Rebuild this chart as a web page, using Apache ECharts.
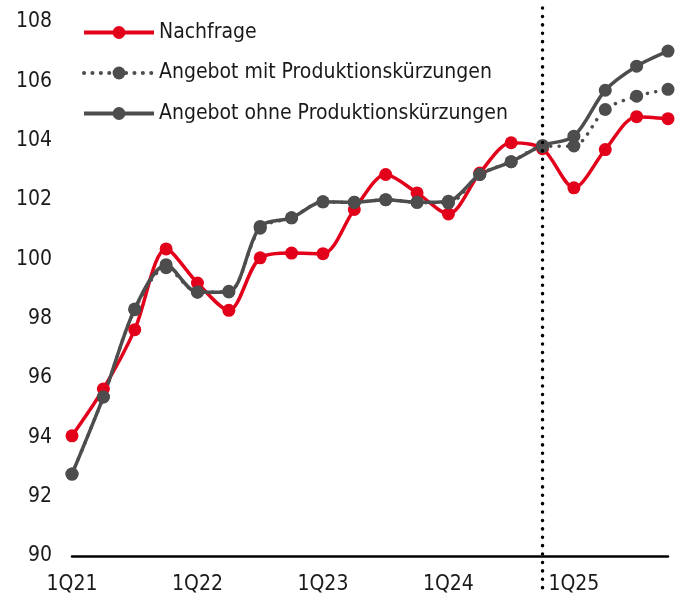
<!DOCTYPE html>
<html>
<head>
<meta charset="utf-8">
<script src="https://cdn.jsdelivr.net/npm/echarts@6/dist/echarts.min.js"></script>
<style>
html, body { margin: 0; padding: 0; background: #fff; }
#chart { width: 681px; height: 595px; }
</style>
</head>
<body>
<div id="chart"></div>
<script>
// Quartale 1Q21 .. 4Q25
var quartale = ['1Q21','2Q21','3Q21','4Q21','1Q22','2Q22','3Q22','4Q22','1Q23','2Q23','3Q23','4Q23',
	'1Q24','2Q24','3Q24','4Q24','1Q25','2Q25','3Q25','4Q25'];
var nachfrage = [94.05, 95.63, 97.63, 100.35, 99.2, 98.28, 100.05, 100.21, 100.19, 101.68, 102.86, 102.24,
	101.53, 102.91, 103.93, 103.73, 102.41, 103.7, 104.81, 104.74];
var angebotMit = [92.76, 95.36, 98.3, 99.72, 98.9, 98.92, 101.05, 101.4, 101.94, 101.92, 102.01, 101.92,
	101.9, 102.86, 103.29, 103.8, 103.82, 105.05, 105.5, 105.73];
var angebotOhne = [92.76, 95.36, 98.33, 99.82, 98.89, 98.9, 101.11, 101.4, 101.94, 101.92, 102.01, 101.92,
	101.96, 102.86, 103.29, 103.84, 104.15, 105.7, 106.51, 107.02];
var yTicks = [90, 92, 94, 96, 98, 100, 102, 104, 106, 108];
var prognoseStart = 15; // 4Q24

var rot = '#e2001a';
var grau = '#4d4d4d';
var schrift = '"DejaVu Sans Condensed", "DejaVu Sans", sans-serif';

var chart = echarts.init(document.getElementById('chart'));
var option = {
	animation: false,
	textStyle: { fontFamily: schrift },
	grid: { left: 72, right: 13, top: 22, bottom: 39, containLabel: false },
	legend: {
		orient: 'vertical',
		left: 82,
		top: 22,
		itemWidth: 70,
		itemHeight: 16,
		itemGap: 19.5,
		padding: 0,
		lineStyle: { width: 4 },
		textStyle: { fontFamily: schrift, fontSize: 21, color: '#1a1a1a' },
		data: ['Nachfrage', 'Angebot mit Produktionskürzungen', 'Angebot ohne Produktionskürzungen']
	},
	xAxis: {
		type: 'category',
		data: quartale,
		boundaryGap: false,
		axisLine: { lineStyle: { color: '#000', width: 2.5 } },
		axisTick: { show: false },
		axisLabel: { interval: 3, color: '#1a1a1a', fontSize: 21, margin: 18, fontFamily: schrift }
	},
	yAxis: {
		type: 'value',
		min: yTicks[0],
		max: yTicks[yTicks.length - 1],
		interval: 2,
		axisLine: { show: false },
		axisTick: { show: false },
		splitLine: { show: false },
		axisLabel: { color: '#1a1a1a', fontSize: 21, margin: 20, fontFamily: schrift }
	},
	series: [
		{
			name: 'Nachfrage',
			type: 'line',
			data: nachfrage,
			smooth: 0.3,
			symbol: 'circle',
			symbolSize: 13,
			itemStyle: { color: rot },
			lineStyle: { color: rot, width: 3.5 }
		},
		{
			name: 'Angebot mit Produktionskürzungen',
			type: 'line',
			data: angebotMit,
			smooth: 0.3,
			symbol: 'circle',
			symbolSize: 13,
			itemStyle: { color: grau },
			lineStyle: { color: grau, width: 3.5, type: [0.1, 8.3], cap: 'round' }
		},
		{
			name: 'Angebot ohne Produktionskürzungen',
			type: 'line',
			data: angebotOhne,
			smooth: 0.3,
			symbol: 'circle',
			symbolSize: 13,
			itemStyle: { color: grau },
			lineStyle: { color: grau, width: 3.5 }
		}
	]
};
chart.setOption(option);

// senkrechte Trennlinie am Prognosebeginn, ragt über das Diagramm hinaus
var xTrenn = chart.convertToPixel({ xAxisIndex: 0 }, prognoseStart);
chart.setOption({
	graphic: [{
		type: 'line',
		z: 100,
		shape: { x1: xTrenn, y1: 8, x2: xTrenn, y2: 595 },
		style: { stroke: '#000', lineWidth: 3.5, lineDash: [0.1, 8.3], lineCap: 'round' }
	}]
});
</script>
</body>
</html>
